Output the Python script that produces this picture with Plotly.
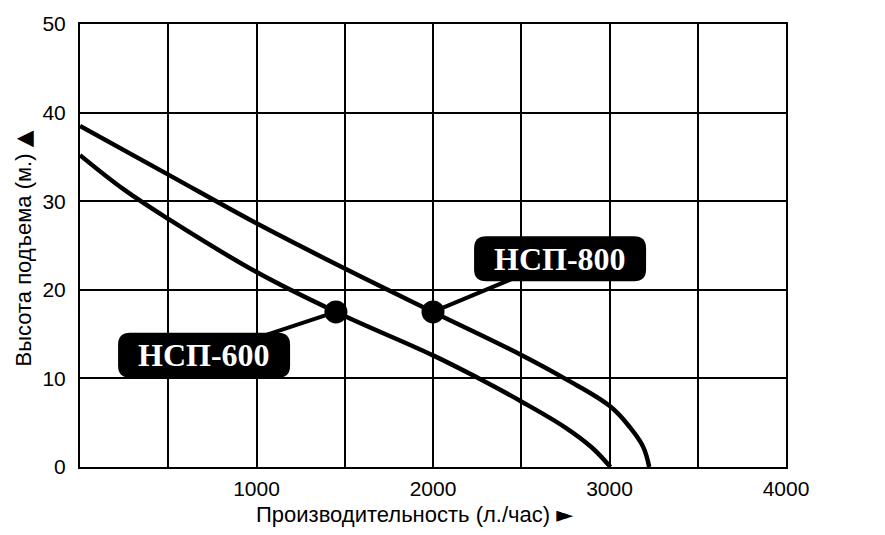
import plotly.graph_objects as go

# Data
flow_800 = [0, 500, 1000, 1500, 2000, 2500, 2750, 3000, 3115, 3190, 3225]
head_800 = [38.5, 33.0, 27.5, 22.4, 17.5, 12.65, 9.95, 6.9, 4.5, 2.3, 0]
flow_600 = [0, 250, 500, 1000, 1450, 2000, 2250, 2500, 2750, 2900, 3005]
head_600 = [35.2, 31.3, 28.0, 22.0, 17.5, 12.6, 10.1, 7.4, 4.45, 2.2, 0]

labels = ["НСП-600", "НСП-800"]
label_points_x = [1450, 2000]
label_points_y = [17.5, 17.5]
label_box_x = [703, 2720]
label_box_y = [12.6, 23.5]

x_grid = [0, 500, 1000, 1500, 2000, 2500, 3000, 3500, 4000]
x_text = ["", "", "1000", "", "2000", "", "3000", "", "4000"]
y_ticks = [0, 10, 20, 30, 40, 50]

fig = go.Figure()
for fx, hy in [(flow_800, head_800), (flow_600, head_600)]:
    fig.add_trace(go.Scatter(x=fx, y=hy, mode="lines",
                             line=dict(color="black", width=4.5, shape="spline", smoothing=1.1),
                             showlegend=False, hoverinfo="skip"))

fig.add_trace(go.Scatter(x=label_points_x, y=label_points_y, mode="markers",
                         marker=dict(color="black", size=23),
                         showlegend=False, hoverinfo="skip"))

# rounded label boxes (pixel-sized, anchored at the label position)
W, H, R = 86, 22.5, 12
box_path = (f"M {-W+R},{-H} L {W-R},{-H} Q {W},{-H} {W},{-H+R} "
            f"L {W},{H-R} Q {W},{H} {W-R},{H} L {-W+R},{H} Q {-W},{H} {-W},{H-R} "
            f"L {-W},{-H+R} Q {-W},{-H} {-W+R},{-H} Z")
for bx, by in zip(label_box_x, label_box_y):
    fig.add_shape(type="path", xref="x", yref="y", xsizemode="pixel", ysizemode="pixel",
                  xanchor=bx, yanchor=by, path=box_path,
                  fillcolor="black", line=dict(color="black", width=0), layer="above")

for t, px, py, bx, by in zip(labels, label_points_x, label_points_y, label_box_x, label_box_y):
    fig.add_annotation(x=px, y=py, ax=bx, ay=by, axref="x", ayref="y",
                       xref="x", yref="y",
                       text="<b>" + t + "</b>", showarrow=True, arrowhead=0,
                       arrowwidth=4, arrowcolor="black",
                       font=dict(family="Liberation Serif", size=32, color="white"),
                       borderpad=2)

tri_up = '<span style="font-family:DejaVu Sans;font-size:22px">▲</span>'
tri_right = '<span style="font-family:DejaVu Sans;font-size:22px">►</span>'

fig.add_annotation(x=0, y=0.5, xref="paper", yref="paper",
                   xanchor="center", yanchor="middle",
                   xshift=-57, yshift=-3,
                   text="Высота подъема (м.) " + tri_up, textangle=-90, showarrow=False,
                   font=dict(family="Liberation Sans", size=22, color="black"))
fig.add_annotation(x=0.5, y=0, xref="paper", yref="paper",
                   xanchor="center", yanchor="middle",
                   xshift=-19, yshift=-47,
                   text="Производительность (л./час) " + tri_right, showarrow=False,
                   font=dict(family="Liberation Sans", size=22, color="black"))

fig.update_xaxes(range=[0, 4000], tickmode="array", tickvals=x_grid, ticktext=x_text,
                 showgrid=True, gridcolor="black", gridwidth=1.5,
                 showline=True, linecolor="black", linewidth=2, mirror=True,
                 zeroline=False, ticks="", ticklabelstandoff=2,
                 tickfont=dict(family="Liberation Sans", size=21, color="black"))
fig.update_yaxes(range=[0, 50], tickmode="array", tickvals=y_ticks,
                 showgrid=True, gridcolor="black", gridwidth=1.5,
                 showline=True, linecolor="black", linewidth=2, mirror=True,
                 zeroline=False, ticks="", ticklabelstandoff=8,
                 tickfont=dict(family="Liberation Sans", size=21, color="black"))

fig.update_layout(width=877, height=527, plot_bgcolor="white", paper_bgcolor="white",
                  margin=dict(l=72, r=99, t=16, b=68, autoexpand=False))

fig.write_html("out.html")
